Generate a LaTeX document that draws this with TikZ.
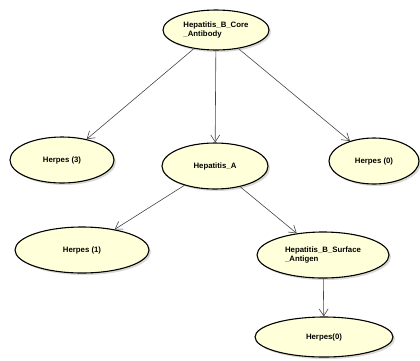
\documentclass[tikz,border=0pt]{standalone}
\usepackage{fontspec}
\setmainfont{Liberation Sans}
\usepackage{tikz}
\usetikzlibrary{shapes.geometric,shadows,arrows.meta}

\definecolor{nodefill}{RGB}{255,255,218}
\definecolor{linegray}{RGB}{70,70,70}

\tikzset{
  bnode/.style={ellipse,draw=black,line width=1.1pt,fill=nodefill,inner sep=0pt,
    minimum height=46pt,align=left,font=\fontsize{7.8}{9.2}\selectfont\bfseries,
    drop shadow={shadow xshift=2pt,shadow yshift=-2pt,opacity=0.3,fill=gray}},
  link/.style={draw=linegray,line width=0.6pt,-{Straight Barb[length=7pt,width=9pt]}}
}

\begin{document}
\begin{tikzpicture}[x=1pt,y=-1pt]
  % Canvas
  \useasboundingbox (0,0) rectangle (420,360);

  % Nodes
  \node[bnode,minimum width=106pt,minimum height=40pt] (core) at (216,30) {Hepatitis\_B\_Core\\\_Antibody};
  \node[bnode,minimum width=104pt] (herpesC) at (62,160) {Herpes (3)};
  \node[bnode,minimum width=106pt] (hepA) at (215,166) {Hepatitis\_A};
  \node[bnode,minimum width=90pt] (herpesD) at (374,161) {Herpes (0)};
  \node[bnode,minimum width=134pt] (herpesB) at (82,250) {Herpes (1)};
  \node[bnode,minimum width=132pt] (surface) at (323,255) {Hepatitis\_B\_Surface\\\_Antigen};
  \node[bnode,minimum width=138pt,minimum height=40pt] (herpesA) at (324,337) {Herpes(0)};

  % Links
  \draw[link] (core) -- (herpesC);
  \draw[link] (core) -- (hepA);
  \draw[link] (core) -- (herpesD);
  \draw[link] (hepA) -- (herpesB);
  \draw[link] (hepA) -- (surface);
  \draw[link] (surface) -- (herpesA);
\end{tikzpicture}
\end{document}
